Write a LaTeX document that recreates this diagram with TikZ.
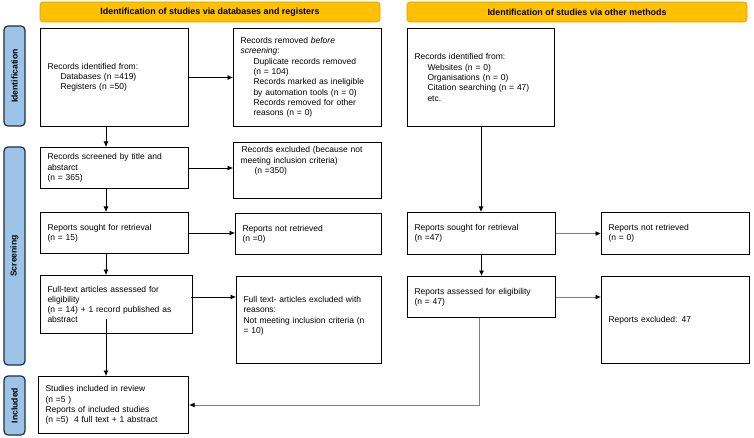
\documentclass[tikz,border=0pt]{standalone}
\usepackage{fontspec}
\setmainfont{Liberation Sans}
\usetikzlibrary{arrows.meta,calc}
\definecolor{hdrfill}{HTML}{FFC000}
\definecolor{hdrdraw}{HTML}{D9A300}
\definecolor{sidefill}{HTML}{9DC3E6}
\definecolor{sidedraw}{HTML}{1F2D4A}
\definecolor{graylink}{HTML}{808080}
\tikzset{
  box/.style={draw=black, line width=1pt, inner xsep=7pt, inner ysep=2pt, align=left,
    font=\fontsize{8.5}{10.3}\selectfont, anchor=north west},
  hdr/.style={draw=hdrdraw, fill=hdrfill, rounded corners=3pt, line width=0.6pt,
    font=\bfseries\fontsize{8.9}{10}\selectfont, inner sep=0pt},
  sidebar/.style={draw=sidedraw, fill=sidefill, rounded corners=4pt, line width=1.2pt,
    font=\bfseries\fontsize{8.6}{10}\selectfont, inner sep=0pt, rotate=90},
  arr/.style={-{Latex[length=5.5pt,width=5pt]}, line width=0.7pt, draw=black},
  garr/.style={-{Latex[length=5.5pt,width=5pt,color=black]}, line width=0.9pt, draw=graylink},
}
\newcommand\pbox[6]{%
  \pgfmathsetmacro\pbW{#4-#2}\pgfmathsetmacro\pbH{#5-#3}\pgfmathsetmacro\pbT{#4-#2-14}%
  \node[box, minimum width=\pbW pt, minimum height=\pbH pt, text width=\pbT pt] (#1) at (#2,#3) {#6};}
\newcommand\ind{\hspace*{13pt}}
\begin{document}
\begin{tikzpicture}[x=1pt,y=-1pt]
\useasboundingbox (0,0) rectangle (754,438);
% headers
\node[hdr, minimum width=340pt, minimum height=20pt] (h1) at (210,12) {Identification of studies via databases and registers};
\node[hdr, minimum width=340pt, minimum height=20pt] (h2) at (577,12) {Identification of studies via other methods};
% side bars
\node[sidebar, minimum width=100pt, minimum height=21pt] (s1) at (14.5,76) {Identification};
\node[sidebar, minimum width=218pt, minimum height=21pt] (s2) at (14.5,256) {Screening};
\node[sidebar, minimum width=59pt, minimum height=21pt] (s3) at (14.5,405.5) {Included};
% boxes
\pbox{A}{40}{28}{188}{126}{Records identified from:\\ \ind Databases (n =419)\\ \ind Registers (n =50)}
\pbox{B}{233}{28}{381}{126}{Records removed \textit{before}\\ \textit{screening}:\\ \ind Duplicate records removed\\ \ind (n = 104)\\ \ind Records marked as ineligible\\ \ind by automation tools (n = 0)\\ \ind Records removed for other\\ \ind reasons (n = 0)}
\pbox{C}{407}{28}{554}{126}{Records identified from:\\ \ind Websites (n = 0)\\ \ind Organisations (n = 0)\\ \ind Citation searching (n = 47)\\ \ind etc.}
\pbox{D}{40}{147}{188}{188}{Records screened by title and\\ abstarct\\ (n = 365)}
\pbox{E}{233}{142}{381}{198}{\hspace*{1pt}Records excluded (because not\\ meeting inclusion criteria)\\ \hspace*{14pt}(n =350)\\ \mbox{}\\ \mbox{}}
\pbox{F}{40}{212}{188}{253}{Reports sought for retrieval\\ (n = 15)}
\pbox{G}{235}{213}{381}{254}{Reports not retrieved\\ (n =0)}
\pbox{H}{40}{275}{192}{333}{Full-text articles assessed for\\ eligibility\\ (n = 14) + 1 record published as\\ abstract}
\pbox{I}{236}{276}{381}{363}{Full text- articles excluded with\\ reasons:\\ Not meeting inclusion criteria (n\\ = 10)\\ \mbox{}}
\pbox{J}{38}{376}{188}{433}{Studies included in review\\ (n =5 )\\ Reports of included studies\\ (n =5)\ \ 4 full text + 1 abstract}
\pbox{K}{407}{212}{555}{254}{Reports sought for retrieval\\ (n =47)}
\pbox{L}{601}{212}{749}{254}{Reports not retrieved\\ (n = 0)}
\pbox{M}{407}{276}{555}{317}{Reports assessed for eligibility\\ (n = 47)}
\pbox{N}{601}{276}{749}{363}{Reports excluded: 47}
% horizontal arrows
\draw[arr] (A.east) -- (A.east -| B.west);
\draw[arr] (D.east) -- (D.east -| E.west);
\draw[arr] (F.east) -- (F.east -| G.west);
\draw[arr] ([yshift=-22pt,xshift=-2pt]H.north east) -- ([yshift=-22pt]H.north east -| I.west);
\draw[garr] (K.east) -- (K.east -| L.west);
\draw[garr] (M.east) -- (M.east -| N.west);
% vertical arrows left column
\draw[arr] ([xshift=66pt]A.south west) -- ([xshift=66pt]A.south west |- D.north);
\draw[arr] ([xshift=66pt]D.south west) -- ([xshift=66pt]D.south west |- F.north);
\draw[arr] ([xshift=66pt]F.south west) -- ([xshift=66pt]F.south west |- H.north);
\draw[arr] ([xshift=66pt,yshift=15pt]H.south west) -- ([xshift=66pt]H.south west |- J.north);
% right column
\draw[arr] (C.south) -- (C.south |- K.north);
\draw[arr] (K.south) -- (K.south |- M.north);
\draw[garr] ([xshift=-2pt]M.south) |- (J.east);
\end{tikzpicture}
\end{document}
